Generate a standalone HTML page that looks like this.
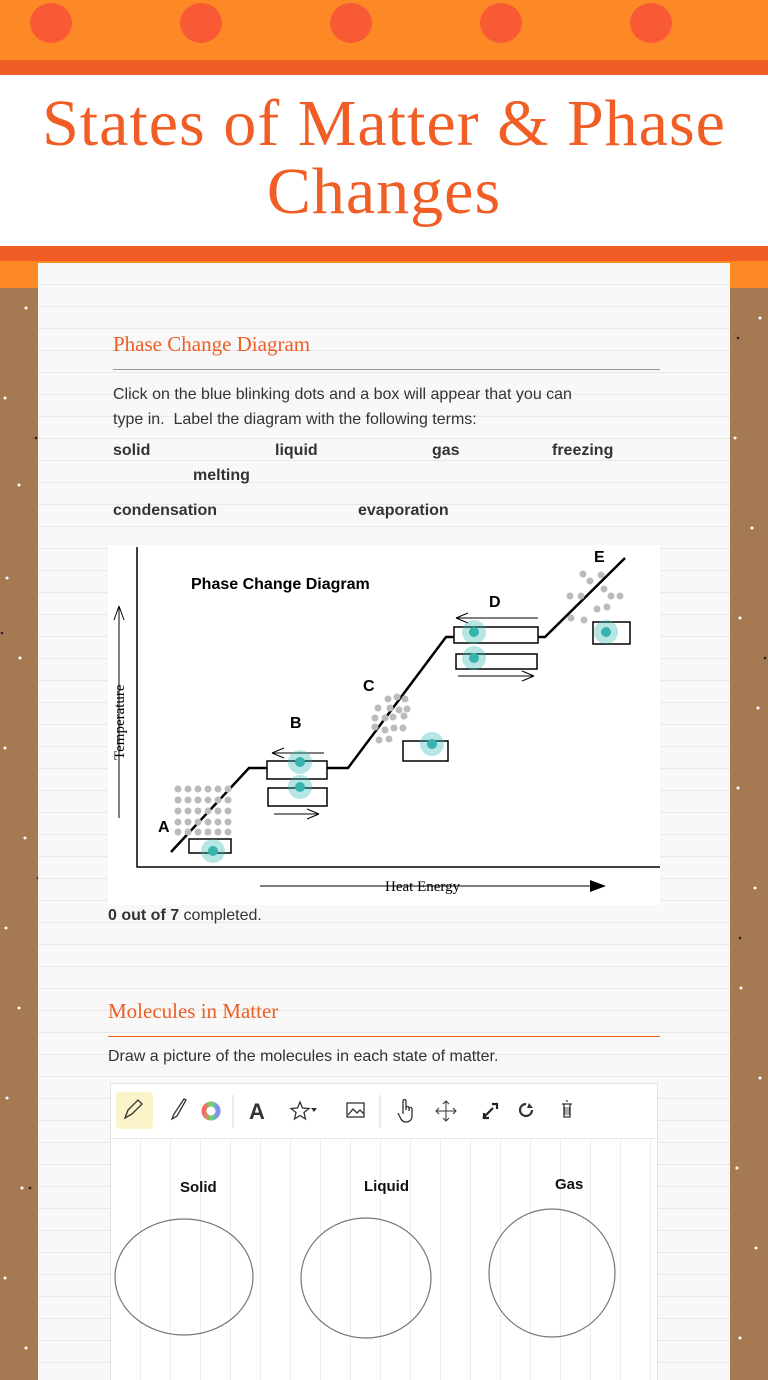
<!DOCTYPE html>
<html><head><meta charset="utf-8"><style>
*{margin:0;padding:0;box-sizing:border-box}
body{width:768px;height:1380px;overflow:hidden;position:relative;background:#a57a52;font-family:"Liberation Sans",sans-serif;color:#333}
.abs{position:absolute}
.t{position:absolute;white-space:nowrap}
</style></head><body>
<div class="abs" style="left:0;top:0;width:768px;height:60px;background:#fd8926"></div>
<div class="abs" style="left:30px;top:3px;width:42px;height:40px;border-radius:50%;background:#f95a36"></div>
<div class="abs" style="left:180px;top:3px;width:42px;height:40px;border-radius:50%;background:#f95a36"></div>
<div class="abs" style="left:330px;top:3px;width:42px;height:40px;border-radius:50%;background:#f95a36"></div>
<div class="abs" style="left:480px;top:3px;width:42px;height:40px;border-radius:50%;background:#f95a36"></div>
<div class="abs" style="left:630px;top:3px;width:42px;height:40px;border-radius:50%;background:#f95a36"></div>
<div class="abs" style="left:0;top:60px;width:768px;height:15px;background:#f05d25"></div>
<div class="abs" style="left:0;top:75px;width:768px;height:171px;background:#fff"></div>
<div class="abs" style="left:0;top:90px;width:768px;text-align:center;font-family:'Liberation Serif',serif;font-size:66px;line-height:68px;color:#f05d25;letter-spacing:1px">States of Matter &amp; Phase<br>Changes</div>
<div class="abs" style="left:0;top:246px;width:768px;height:15px;background:#f05d25"></div>
<div class="abs" style="left:0;top:261px;width:768px;height:27px;background:#fd8926"></div>
<svg class="abs" style="left:0;top:288px" width="768" height="1092">
<g fill="#fff"><circle cx="26" cy="20" r="1.5"/><circle cx="5" cy="110" r="1.5"/><circle cx="19" cy="197" r="1.5"/><circle cx="7" cy="290" r="1.5"/><circle cx="20" cy="370" r="1.5"/><circle cx="5" cy="460" r="1.5"/><circle cx="25" cy="550" r="1.5"/><circle cx="6" cy="640" r="1.5"/><circle cx="19" cy="720" r="1.5"/><circle cx="7" cy="810" r="1.5"/><circle cx="22" cy="900" r="1.5"/><circle cx="5" cy="990" r="1.5"/><circle cx="26" cy="1060" r="1.5"/>
<circle cx="760" cy="30" r="1.5"/><circle cx="735" cy="150" r="1.5"/><circle cx="752" cy="240" r="1.5"/><circle cx="740" cy="330" r="1.5"/><circle cx="758" cy="420" r="1.5"/><circle cx="738" cy="500" r="1.5"/><circle cx="755" cy="600" r="1.5"/><circle cx="741" cy="700" r="1.5"/><circle cx="760" cy="790" r="1.5"/><circle cx="737" cy="880" r="1.5"/><circle cx="756" cy="960" r="1.5"/><circle cx="740" cy="1050" r="1.5"/></g>
<g fill="#222"><circle cx="36" cy="150" r="1.3"/><circle cx="2" cy="345" r="1.3"/><circle cx="38" cy="590" r="1.3"/><circle cx="738" cy="50" r="1.3"/><circle cx="765" cy="370" r="1.3"/><circle cx="740" cy="650" r="1.3"/><circle cx="30" cy="900" r="1.3"/></g>
</svg>
<div class="abs" style="left:38px;top:263px;width:692px;height:1117px;background:#f8f8f8;background-image:repeating-linear-gradient(180deg,transparent 0,transparent 21px,#e8e8e8 21px,#e8e8e8 22px)"></div>

<div class="t" style="left:113px;top:332px;font-family:'Liberation Serif',serif;font-size:21px;color:#f05d25">Phase Change Diagram</div>
<div class="abs" style="left:113px;top:369px;width:547px;height:1px;background:#999"></div>
<div class="t" style="left:113px;top:382px;font-size:16px;line-height:25px;color:#333">Click on the blue blinking dots and a box will appear that you can<br>type in.&nbsp; Label the diagram with the following terms:</div>
<div class="t" style="left:113px;top:442px;font-size:16px;font-weight:bold">solid</div>
<div class="t" style="left:275px;top:442px;font-size:16px;font-weight:bold">liquid</div>
<div class="t" style="left:432px;top:442px;font-size:16px;font-weight:bold">gas</div>
<div class="t" style="left:552px;top:442px;font-size:16px;font-weight:bold">freezing</div>
<div class="t" style="left:193px;top:467px;font-size:16px;font-weight:bold">melting</div>
<div class="t" style="left:113px;top:502px;font-size:16px;font-weight:bold">condensation</div>
<div class="t" style="left:358px;top:502px;font-size:16px;font-weight:bold">evaporation</div>

<div class="abs" style="left:108px;top:545px;width:552px;height:360px;background:#fff"></div>
<svg class="abs" style="left:0;top:0" width="768" height="1380">
<g stroke="#000" fill="none">
<path d="M137 547V867H660" stroke-width="1.5"/>
<path d="M171 852L249 768H348L446 637H545L625 558" stroke-width="2.5"/>
<path d="M260 886H592" stroke-width="1"/>
<path d="M119 818V606M119 606l-5 14M119 606l5 14" stroke-width="1"/>
<path d="M324 753H272l12-5M272 753l12 5M274 814H319l-12-5M319 814l-12 5M538 618H456l12-5M456 618l12 5M458 676H534l-12-5M534 676l-12 5" stroke-width="1"/>
</g>
<polygon points="590,880 606,886 590,892" fill="#000"/>
<g fill="#bbb">
<g id="ar"><circle cx="178" cy="789" r="3.5"/><circle cx="188" cy="789" r="3.5"/><circle cx="198" cy="789" r="3.5"/><circle cx="208" cy="789" r="3.5"/><circle cx="218" cy="789" r="3.5"/><circle cx="228" cy="789" r="3.5"/></g>
<use href="#ar" y="11"/><use href="#ar" y="22"/><use href="#ar" y="33"/><use href="#ar" y="43"/>
<circle cx="388" cy="699" r="3.5"/><circle cx="397" cy="697" r="3.5"/><circle cx="405" cy="699" r="3.5"/><circle cx="378" cy="708" r="3.5"/><circle cx="390" cy="708" r="3.5"/><circle cx="399" cy="710" r="3.5"/><circle cx="407" cy="709" r="3.5"/><circle cx="375" cy="718" r="3.5"/><circle cx="385" cy="718" r="3.5"/><circle cx="393" cy="717" r="3.5"/><circle cx="404" cy="716" r="3.5"/><circle cx="375" cy="727" r="3.5"/><circle cx="385" cy="730" r="3.5"/><circle cx="394" cy="728" r="3.5"/><circle cx="403" cy="728" r="3.5"/><circle cx="379" cy="740" r="3.5"/><circle cx="389" cy="739" r="3.5"/>
<circle cx="583" cy="574" r="3.5"/><circle cx="590" cy="581" r="3.5"/><circle cx="601" cy="575" r="3.5"/><circle cx="570" cy="596" r="3.5"/><circle cx="581" cy="596" r="3.5"/><circle cx="604" cy="589" r="3.5"/><circle cx="611" cy="596" r="3.5"/><circle cx="620" cy="596" r="3.5"/><circle cx="597" cy="609" r="3.5"/><circle cx="571" cy="618" r="3.5"/><circle cx="584" cy="620" r="3.5"/><circle cx="607" cy="607" r="3.5"/>
</g>
<g fill="#fff" stroke="#000" stroke-width="1.5">
<rect x="189" y="839" width="42" height="14"/><rect x="267" y="761" width="60" height="18"/><rect x="268" y="788" width="59" height="18"/><rect x="403" y="741" width="45" height="20"/><rect x="454" y="627" width="84" height="16"/><rect x="456" y="654" width="81" height="15"/><rect x="593" y="622" width="37" height="22"/>
</g>
<g fill="#2fb7b0" fill-opacity=".35"><circle cx="213" cy="851" r="12"/><circle cx="300" cy="762" r="12"/><circle cx="300" cy="787" r="12"/><circle cx="432" cy="744" r="12"/><circle cx="474" cy="632" r="12"/><circle cx="474" cy="658" r="12"/><circle cx="606" cy="632" r="12"/></g>
<g fill="#36b4ad"><circle cx="213" cy="851" r="5"/><circle cx="300" cy="762" r="5"/><circle cx="300" cy="787" r="5"/><circle cx="432" cy="744" r="5"/><circle cx="474" cy="632" r="5"/><circle cx="474" cy="658" r="5"/><circle cx="606" cy="632" r="5"/></g>
<g font-family="Liberation Sans,sans-serif" font-weight="bold" fill="#000" font-size="16">
<text x="158" y="832">A</text><text x="290" y="728">B</text><text x="363" y="691">C</text><text x="489" y="607">D</text><text x="594" y="562">E</text>
<text x="191" y="589">Phase Change Diagram</text></g>
<text x="385" y="891" font-family="Liberation Serif,serif" font-size="15" fill="#000">Heat Energy</text>
<text transform="translate(124,760) rotate(-90)" font-family="Liberation Serif,serif" font-size="15" fill="#000">Temperature</text>
</svg>
<div class="t" style="left:108px;top:907px;font-size:16px"><b>0 out of 7</b> completed.</div>

<div class="t" style="left:108px;top:999px;font-family:'Liberation Serif',serif;font-size:21px;color:#f05d25">Molecules in Matter</div>
<div class="abs" style="left:108px;top:1036px;width:552px;height:1px;background:#f05d25"></div>
<div class="t" style="left:108px;top:1048px;font-size:16px">Draw a picture of the molecules in each state of matter.</div>

<div class="abs" style="left:110px;top:1083px;width:548px;height:297px;background:#fff;border:1px solid #e2e2e2"></div>
<div class="abs" style="left:111px;top:1138px;width:546px;height:242px;background-color:#fff;background-image:repeating-linear-gradient(90deg,transparent 0,transparent 29px,#ececec 29px,#ececec 30px);border-top:1px solid #e6e6e6"></div>
<div class="abs" style="left:116px;top:1092px;width:37px;height:37px;background:#fbf3c9;border-radius:4px"></div>
<svg class="abs" style="left:110px;top:1083px" width="548" height="55" font-family="Liberation Sans,sans-serif">
<g stroke="#333" fill="none" stroke-width="1.3">
<path d="M15 35l3-8 10-10 4 4-10 10z"/>
<path d="M62 36l2-5 10-15 2 1-9 16z"/>
<line x1="123" y1="12" x2="123" y2="45" stroke="#e0e0e0"/>
<path d="M190 19l2.5 6 6.5.5-5 4 1.5 6.5-5.5-3.5-5.5 3.5 1.5-6.5-5-4 6.5-.5z"/>
<rect x="237" y="20" width="17" height="14"/><path d="M238 32l5-6 4 4 3-3 4 4"/>
<line x1="270" y1="12" x2="270" y2="45" stroke="#e0e0e0"/>
<path d="M293 31v-8M293 28v-10a1.5 1.5 0 013 0v9M296 25a1.5 1.5 0 013 0v3M299 26a1.5 1.5 0 013 0v7c0 4-3 6-6 6s-5-2-6-5l-2-4"/>
<path d="M336 18v20M326 28h20M333 21l3-3 3 3M333 35l3 3 3-3M329 25l-3 3 3 3M343 25l3 3-3 3" stroke-width="1"/>
<path d="M416 21a6 6 0 106 6" stroke-width="2.2"/>
<path d="M452 21h10M454 21v13h6v-13M456 18h2" /><path d="M455 24v8M457 24v8M459 24v8" stroke-width=".8"/>
</g>
<path d="M373 35l10-10M374 30v5h5M382 21h5v5" stroke="#222" stroke-width="2.2" fill="none"/>
<path d="M419 20l4 5h-6z" fill="#333"/>
<polygon points="201,25 207,25 204,29" fill="#333"/>
<circle cx="101" cy="28" r="7" fill="none" stroke="url(#g)" stroke-width="5"/>
<defs><linearGradient id="g"><stop offset="0" stop-color="#f66"/><stop offset=".5" stop-color="#6d6"/><stop offset="1" stop-color="#88f"/></linearGradient></defs>
<text x="139" y="36" font-size="22" font-weight="bold" fill="#333">A</text>
</svg>
<div class="t" style="left:180px;top:1179px;font-size:15px;font-weight:bold;color:#111">Solid</div>
<div class="t" style="left:364px;top:1178px;font-size:15px;font-weight:bold;color:#111">Liquid</div>
<div class="t" style="left:555px;top:1176px;font-size:15px;font-weight:bold;color:#111">Gas</div>
<svg class="abs" style="left:0;top:0" width="768" height="1380">
<g fill="none" stroke="#777" stroke-width="1.2">
<ellipse cx="184" cy="1277" rx="69" ry="58"/><ellipse cx="366" cy="1278" rx="65" ry="60"/><ellipse cx="552" cy="1273" rx="63" ry="64"/>
</g></svg>
</body></html>
